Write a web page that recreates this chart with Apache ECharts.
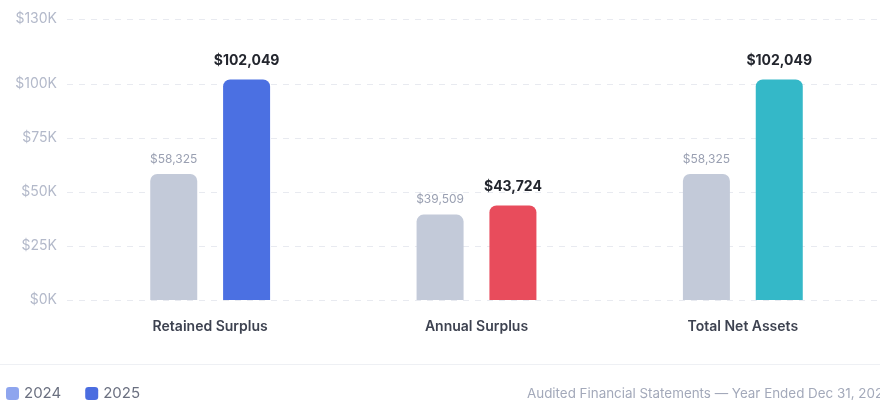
<!DOCTYPE html>
<html><head><meta charset="utf-8">
<script src="https://cdn.jsdelivr.net/npm/echarts@6/dist/echarts.min.js"></script>
<style>html,body{margin:0;padding:0;background:#fff}#c{width:880px;height:401px}</style>
</head><body><div id="c"></div>
<script>
const categories = ['Retained Surplus', 'Annual Surplus', 'Total Net Assets'];
const values2024 = [58325, 39509, 58325];
const values2025 = [102049, 43724, 102049];
const colors2025 = ['#4b70e2', '#e84c5c', '#34b8c8'];
const yTicks = [0, 25000, 50000, 75000, 100000, 130000];
const footer = 'Audited Financial Statements \u2014 Year Ended Dec 31, 2025';

const fmt = v => '$' + v.toLocaleString('en-US');
const chart = echarts.init(document.getElementById('c'));
const FONT = 'Inter, "Noto Sans", sans-serif';
chart.setOption({
  animation: false,
  textStyle: { fontFamily: FONT },
  grid: [
    { left: 67, right: 2, top: 19, bottom: 101 },
    { left: 77, right: 4, top: 19, bottom: 101 }
  ],
  xAxis: [
    { gridIndex: 0, type: 'category', data: categories, show: false },
    { gridIndex: 1, type: 'category', data: categories,
      axisLine: { show: false }, axisTick: { show: false },
      axisLabel: { margin: 20, fontSize: 14, fontWeight: 600, color: '#3d4250', fontFamily: FONT } }
  ],
  yAxis: [
    { gridIndex: 0, type: 'value', min: 0, max: 130000,
      axisLine: { show: false },
      axisTick: { show: false, customValues: yTicks },
      axisLabel: { customValues: yTicks, margin: 10, fontSize: 14, color: '#b3b9ca', fontFamily: FONT,
        formatter: v => '$' + (v / 1000) + 'K' },
      splitLine: { lineStyle: { color: '#e8eaf0', type: [6, 6], width: 1 } } },
    { gridIndex: 1, type: 'value', min: 0, max: 130000, show: false, splitLine: { show: false } }
  ],
  legend: {
    left: 1, top: 381, itemWidth: 13, itemHeight: 13, itemGap: 24,
    icon: 'roundRect',
    textStyle: { fontSize: 15, color: '#6b7080', fontFamily: FONT },
    data: [
      { name: '2024', itemStyle: { color: '#8ea5ee' } },
      { name: '2025', itemStyle: { color: '#4b6de0' } }
    ]
  },
  graphic: [
    { type: 'rect', shape: { x: 0, y: 364, width: 880, height: 1 }, style: { fill: '#eef0f4' } },
    { type: 'text', left: 527, top: 387, style: { text: footer, fontSize: 13.4, fill: '#a3a9ba', fontFamily: FONT } }
  ],
  series: [
    { name: '2024', type: 'bar', xAxisIndex: 1, yAxisIndex: 1, barWidth: 47, barGap: '55%',
      data: values2024,
      itemStyle: { color: '#c3cad9', borderRadius: [7, 7, 0, 0] },
      label: { show: true, position: 'top', distance: 9, fontSize: 12, color: '#9aa0b2', fontFamily: FONT,
        formatter: p => fmt(p.value) } },
    { name: '2025', type: 'bar', xAxisIndex: 1, yAxisIndex: 1, barWidth: 47,
      data: values2025.map((v, i) => ({ value: v, itemStyle: { color: colors2025[i] } })),
      itemStyle: { color: '#4b6de0', borderRadius: [7, 7, 0, 0] },
      label: { show: true, position: 'top', distance: 12, fontSize: 14, fontWeight: 700, color: '#23262e', fontFamily: FONT,
        formatter: p => fmt(p.value) } }
  ]
});
</script></body></html>
